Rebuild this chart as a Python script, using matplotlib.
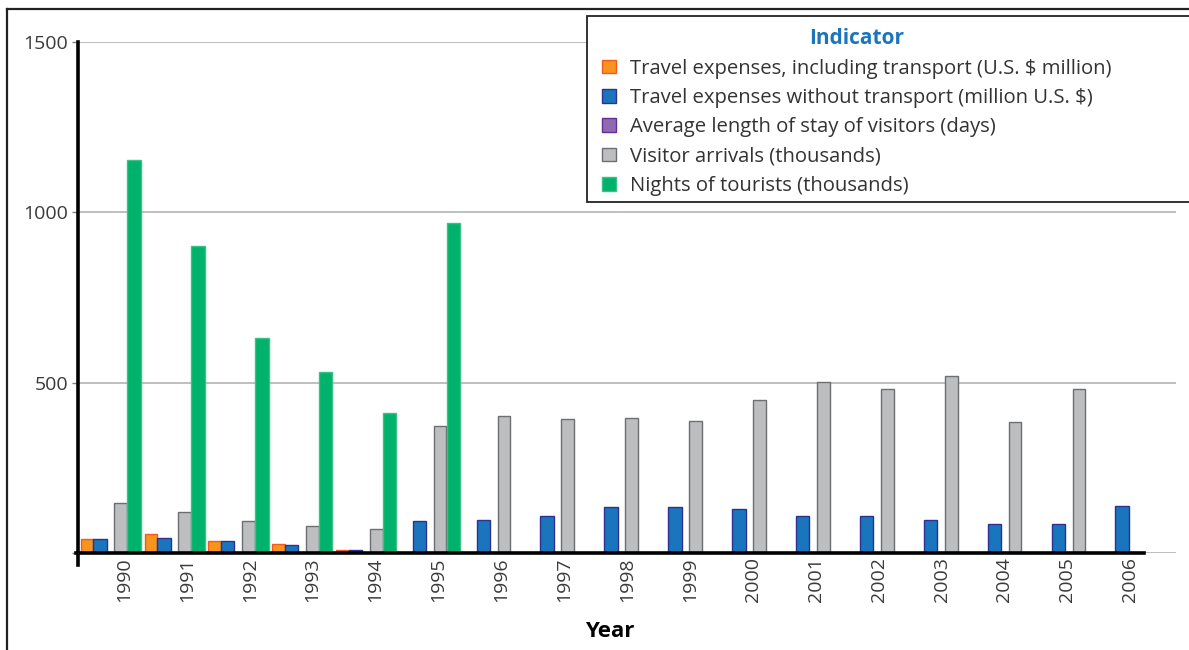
import numpy as np
import matplotlib
matplotlib.use("Agg")
import matplotlib.pyplot as plt
from matplotlib.patches import Rectangle
from matplotlib.lines import Line2D

plt.rcParams['font.family'] = ['Open Sans', 'DejaVu Sans']

years = [str(y) for y in range(1990, 2007)]
nan = np.nan
travel_incl_transport = [40, 55, 34, 26, 8] + [nan] * 12
travel_excl_transport = [40, 44, 35, 23, 10, 94, 97, 108, 136, 136, 130, 108, 108, 98, 85, 85, 139]
avg_length_stay = [nan] * 17
visitor_arrivals = [148, 120, 94, 79, 70, 373, 402, 393, 396, 387, 449, 502, 481, 520, 385, 481, nan]
nights_tourists = [1153, 901, 631, 531, 411, 969] + [nan] * 11

series_labels = [
    "Travel expenses, including transport (U.S. $ million)",
    "Travel expenses without transport (million U.S. $)",
    "Average length of stay of visitors (days)",
    "Visitor arrivals (thousands)",
    "Nights of tourists (thousands)",
]
series_values = [travel_incl_transport, travel_excl_transport, avg_length_stay,
                 visitor_arrivals, nights_tourists]

faces = ["#F7941D", "#1B75BC", "#8E6BB0", "#BCBEC0", "#00B26B"]
edges = ["#F15A22", "#2E3192", "#662D91", "#6D6E71", "#3CC184"]
offsets = [0.094, 0.297, 0.46, 0.62, 0.83]
widths = [0.2, 0.21, 0.12, 0.2, 0.21]

W, H = 1189, 650
fig = plt.figure(figsize=(W / 100, H / 100), dpi=100)
ax = fig.add_axes([78 / W, 1 - 553 / H, (1176 - 78) / W, (553 - 42) / H])

idx = np.arange(len(years))
handles = []
for vals, fc, ec, off, w, lab in zip(series_values, faces, edges, offsets, widths, series_labels):
    ax.bar(idx + off, np.array(vals, dtype=float), width=w, color=fc,
           edgecolor=ec, linewidth=1.0, label=lab, zorder=3)
    handles.append(Rectangle((0, 0), 1, 1, facecolor=fc, edgecolor=ec, linewidth=1.0))

ax.set_ylim(0, 1500)
ax.set_xlim(-0.047, 17.14)
ax.set_yticks([0, 500, 1000, 1500])
ax.set_yticklabels(["", "500", "1000", "1500"])
ax.yaxis.grid(True, color="#B3B3B3", linewidth=1.2, zorder=0)
ax.set_axisbelow(True)
ax.tick_params(axis="y", length=4, width=1, color="#808080", labelsize=14,
               labelcolor="#3a3a3a", pad=3)

tick_pos = 0.673 + 0.9844 * idx
ax.set_xticks(tick_pos)
ax.set_xticklabels(years, rotation=90, fontsize=14, color="#3a3a3a")
ax.tick_params(axis="x", length=0, pad=3)

for s in ["top", "right"]:
    ax.spines[s].set_visible(False)
ax.spines["left"].set_linewidth(2.6)
ax.spines["bottom"].set_linewidth(2.6)
ax.spines["left"].set_bounds(-35, 1500)
ax.spines["bottom"].set_bounds(-0.08, 16.64)
ax.spines["left"].set_zorder(5)
ax.spines["bottom"].set_zorder(5)

ax.set_xlabel("Year", fontsize=16, fontweight="bold", color="black")
ax.xaxis.set_label_coords((610 - 78) / (1176 - 78), -(621 - 553) / (553 - 42))

# outer frame
fig.add_artist(Line2D([7 / W, 1], [1 - 9 / H, 1 - 9 / H], color="#222222", linewidth=1.6))
fig.add_artist(Line2D([7 / W, 7 / W], [0, 1 - 9 / H], color="#222222", linewidth=1.6))

# legend box
fig.add_artist(Rectangle((587 / W, 1 - 202 / H), (W + 5 - 587) / W, (202 - 16) / H,
                         facecolor="white", edgecolor="#222222", linewidth=1.3,
                         zorder=10, transform=fig.transFigure))
leg = fig.legend(handles, series_labels, loc="upper left",
                 bbox_to_anchor=(588 / W, 1 - 14 / H), frameon=False,
                 fontsize=14.6, title="Indicator", handlelength=0.66, handleheight=0.66,
                 handletextpad=0.7, labelspacing=0.46, borderpad=0.2,
                 labelcolor="#333333")
leg.set_zorder(11)
t = leg.get_title()
t.set_fontweight("bold")
t.set_color("#1B75BC")
t.set_fontsize(15)

fig.savefig("out.png", dpi=100)
